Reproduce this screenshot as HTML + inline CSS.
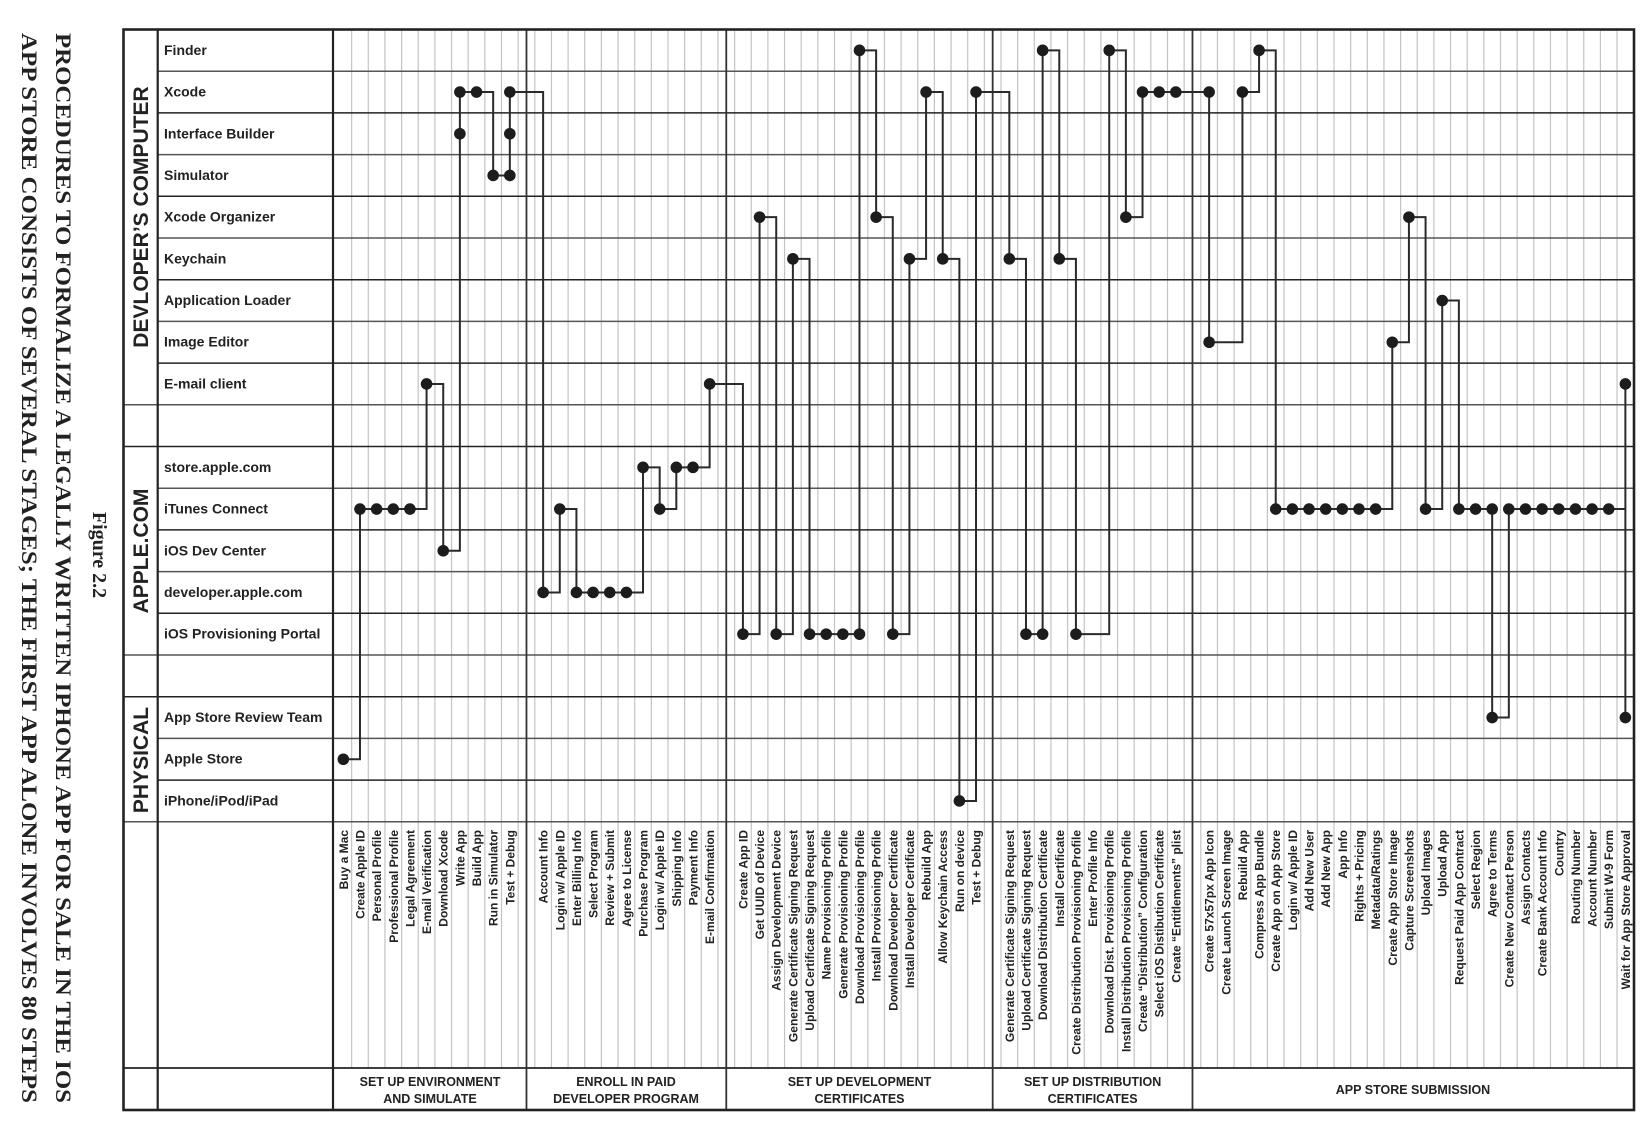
<!DOCTYPE html>
<html><head><meta charset="utf-8"><style>
html,body{margin:0;padding:0;background:#fff;}
svg{display:block;}
.rl{font-family:"Liberation Sans",sans-serif;font-weight:bold;font-size:14px;fill:#222;}
.st{font-family:"Liberation Sans",sans-serif;font-weight:bold;font-size:12px;fill:#222;text-anchor:end;}
.gl{font-family:"Liberation Sans",sans-serif;font-weight:bold;font-size:21px;fill:#222;text-anchor:middle;}
.sg{font-family:"Liberation Sans",sans-serif;font-weight:bold;font-size:12.5px;fill:#222;text-anchor:middle;}
.tt{font-family:"Liberation Serif",serif;font-weight:bold;font-size:22px;fill:#222;}
</style></head><body>
<svg id="s" width="1651" height="1138" viewBox="0 0 1651 1138" xmlns="http://www.w3.org/2000/svg">
<g id="grid"></g>
<g id="conn"></g>
<text class="tt" transform="translate(56,33) rotate(90)" textLength="1070" lengthAdjust="spacingAndGlyphs">PROCEDURES TO FORMALIZE A LEGALLY WRITTEN IPHONE APP FOR SALE IN THE IOS</text>
<text class="tt" transform="translate(22,33) rotate(90)" textLength="1070" lengthAdjust="spacingAndGlyphs">APP STORE CONSISTS OF SEVERAL STAGES; THE FIRST APP ALONE INVOLVES 80 STEPS</text>
<text class="tt" style="font-size:20px" text-anchor="middle" transform="translate(93,555) rotate(90)">Figure 2.2</text>
<text class="gl" transform="translate(148,217) rotate(-90)">DEVLOPER’S COMPUTER</text>
<text class="gl" transform="translate(148,551) rotate(-90)">APPLE.COM</text>
<text class="gl" transform="translate(148,760) rotate(-90)">PHYSICAL</text>
<text class="rl" x="164" y="55">Finder</text>
<text class="rl" x="164" y="96.5">Xcode</text>
<text class="rl" x="164" y="138.5">Interface Builder</text>
<text class="rl" x="164" y="180">Simulator</text>
<text class="rl" x="164" y="221.5">Xcode Organizer</text>
<text class="rl" x="164" y="263.5">Keychain</text>
<text class="rl" x="164" y="305">Application Loader</text>
<text class="rl" x="164" y="346.5">Image Editor</text>
<text class="rl" x="164" y="388.5">E-mail client</text>
<text class="rl" x="164" y="472">store.apple.com</text>
<text class="rl" x="164" y="513.5">iTunes Connect</text>
<text class="rl" x="164" y="555.5">iOS Dev Center</text>
<text class="rl" x="164" y="597">developer.apple.com</text>
<text class="rl" x="164" y="638.5">iOS Provisioning Portal</text>
<text class="rl" x="164" y="722">App Store Review Team</text>
<text class="rl" x="164" y="763.5">Apple Store</text>
<text class="rl" x="164" y="805.5">iPhone/iPod/iPad</text>
<g class="st">
<text transform="translate(347.8,830) rotate(-90)">Buy a Mac</text>
<text transform="translate(364.5,830) rotate(-90)">Create Apple ID</text>
<text transform="translate(381.1,830) rotate(-90)">Personal Profile</text>
<text transform="translate(397.8,830) rotate(-90)">Professional Profile</text>
<text transform="translate(414.4,830) rotate(-90)">Legal Agreement</text>
<text transform="translate(431.1,830) rotate(-90)">E-mail Verification</text>
<text transform="translate(447.7,830) rotate(-90)">Download Xcode</text>
<text transform="translate(464.4,830) rotate(-90)">Write App</text>
<text transform="translate(481.0,830) rotate(-90)">Build App</text>
<text transform="translate(497.7,830) rotate(-90)">Run in Simulator</text>
<text transform="translate(514.3,830) rotate(-90)">Test + Debug</text>
<text transform="translate(547.6,830) rotate(-90)">Account Info</text>
<text transform="translate(564.3,830) rotate(-90)">Login w/ Apple ID</text>
<text transform="translate(580.9,830) rotate(-90)">Enter Billing Info</text>
<text transform="translate(597.6,830) rotate(-90)">Select Program</text>
<text transform="translate(614.2,830) rotate(-90)">Review  + Submit</text>
<text transform="translate(630.9,830) rotate(-90)">Agree to License</text>
<text transform="translate(647.5,830) rotate(-90)">Purchase Program</text>
<text transform="translate(664.2,830) rotate(-90)">Login w/ Apple ID</text>
<text transform="translate(680.8,830) rotate(-90)">Shipping Info</text>
<text transform="translate(697.5,830) rotate(-90)">Payment Info</text>
<text transform="translate(714.1,830) rotate(-90)">E-mail Confirmation</text>
<text transform="translate(747.4,830) rotate(-90)">Create App ID</text>
<text transform="translate(764.1,830) rotate(-90)">Get UUID of Device</text>
<text transform="translate(780.7,830) rotate(-90)">Assign Development Device</text>
<text transform="translate(797.4,830) rotate(-90)">Generate Certificate Signing Request</text>
<text transform="translate(814.0,830) rotate(-90)">Upload Certificate Signing Request</text>
<text transform="translate(830.7,830) rotate(-90)">Name Provisioning Profile</text>
<text transform="translate(847.3,830) rotate(-90)">Generate Provisioning Profile</text>
<text transform="translate(864.0,830) rotate(-90)">Download Provisioning Profile</text>
<text transform="translate(880.6,830) rotate(-90)">Install Provisioning Profile</text>
<text transform="translate(897.3,830) rotate(-90)">Download Developer Certificate</text>
<text transform="translate(913.9,830) rotate(-90)">Install Developer Certificate</text>
<text transform="translate(930.6,830) rotate(-90)">Rebuild App</text>
<text transform="translate(947.2,830) rotate(-90)">Allow Keychain Access</text>
<text transform="translate(963.9,830) rotate(-90)">Run on device</text>
<text transform="translate(980.5,830) rotate(-90)">Test + Debug</text>
<text transform="translate(1013.8,830) rotate(-90)">Generate Certificate Signing Request</text>
<text transform="translate(1030.5,830) rotate(-90)">Upload Certificate Signing Request</text>
<text transform="translate(1047.1,830) rotate(-90)">Download Distribution Certificate</text>
<text transform="translate(1063.8,830) rotate(-90)">Install Certificate</text>
<text transform="translate(1080.4,830) rotate(-90)">Create Distribution Provisioning Profile</text>
<text transform="translate(1097.1,830) rotate(-90)">Enter Profile Info</text>
<text transform="translate(1113.7,830) rotate(-90)">Download Dist. Provisioning Profile</text>
<text transform="translate(1130.4,830) rotate(-90)">Install Distribution Provisioning Profile</text>
<text transform="translate(1147.0,830) rotate(-90)">Create “Distribution” Configuration</text>
<text transform="translate(1163.7,830) rotate(-90)">Select iOS Distibution Certificate</text>
<text transform="translate(1180.3,830) rotate(-90)">Create “Entitlements” plist</text>
<text transform="translate(1213.6,830) rotate(-90)">Create 57x57px App Icon</text>
<text transform="translate(1230.3,830) rotate(-90)">Create Launch Screen Image</text>
<text transform="translate(1246.9,830) rotate(-90)">Rebuild App</text>
<text transform="translate(1263.6,830) rotate(-90)">Compress App Bundle</text>
<text transform="translate(1280.2,830) rotate(-90)">Create App on App Store</text>
<text transform="translate(1296.9,830) rotate(-90)">Login w/ Apple ID</text>
<text transform="translate(1313.5,830) rotate(-90)">Add New User</text>
<text transform="translate(1330.2,830) rotate(-90)">Add New App</text>
<text transform="translate(1346.8,830) rotate(-90)">App Info</text>
<text transform="translate(1363.5,830) rotate(-90)">Rights + Pricing</text>
<text transform="translate(1380.1,830) rotate(-90)">Metadata/Ratings</text>
<text transform="translate(1396.8,830) rotate(-90)">Create App Store Image</text>
<text transform="translate(1413.4,830) rotate(-90)">Capture Screenshots</text>
<text transform="translate(1430.1,830) rotate(-90)">Upload Images</text>
<text transform="translate(1446.7,830) rotate(-90)">Upload App</text>
<text transform="translate(1463.4,830) rotate(-90)">Request Paid App Contract</text>
<text transform="translate(1480.0,830) rotate(-90)">Select Region</text>
<text transform="translate(1496.7,830) rotate(-90)">Agree to Terms</text>
<text transform="translate(1513.3,830) rotate(-90)">Create New Contact Person</text>
<text transform="translate(1530.0,830) rotate(-90)">Assign Contacts</text>
<text transform="translate(1546.6,830) rotate(-90)">Create Bank Account Info</text>
<text transform="translate(1563.3,830) rotate(-90)">Country</text>
<text transform="translate(1579.9,830) rotate(-90)">Routing Number</text>
<text transform="translate(1596.6,830) rotate(-90)">Account Number</text>
<text transform="translate(1613.2,830) rotate(-90)">Submit W-9 Form</text>
<text transform="translate(1629.9,830) rotate(-90)">Wait for App Store Approval</text>
</g>
<g class="sg">
<text x="430" y="1086">SET UP ENVIRONMENT</text><text x="430" y="1103">AND SIMULATE</text>
<text x="626" y="1086">ENROLL IN PAID</text><text x="626" y="1103">DEVELOPER PROGRAM</text>
<text x="859.5" y="1086">SET UP DEVELOPMENT</text><text x="859.5" y="1103">CERTIFICATES</text>
<text x="1092.6" y="1086">SET UP DISTRIBUTION</text><text x="1092.6" y="1103">CERTIFICATES</text>
<text x="1413" y="1094">APP STORE SUBMISSION</text>
</g>
</svg>
<script>
(function(){
var NS="http://www.w3.org/2000/svg";
var grid=document.getElementById("grid"),conn=document.getElementById("conn");
function el(p,t,a){var e=document.createElementNS(NS,t);for(var k in a)e.setAttribute(k,a[k]);p.appendChild(e);return e;}
function line(p,x1,y1,x2,y2,c,w){el(p,"line",{x1:x1,y1:y1,x2:x2,y2:y2,stroke:c,"stroke-width":w});}
var L=123.5,T=29.5,R=1634,B=1110,G=157.7,C0=333,RH=41.7,CW=16.65,X0=335;
function cx(i){return X0+(i+0.5)*CW;}
function cy(r){return T+(r+0.5)*RH;}
for(var k=1;k<78;k++){var x=X0+k*CW;line(grid,x,T,x,1068,"#c4c4c4",1.2);}
for(var r=1;r<=19;r++){var y=T+r*RH;
  var x1=(r==9||r==10||r==15||r==16||r==19)?L:G;
  line(grid,x1,y,R,y,(r%2)?"#555":"#222",1.5);}
line(grid,L,1068,R,1068,"#222",1.8);
line(grid,G,T,G,B,"#222",2.2);
line(grid,C0,T,C0,B,"#222",2.2);
[11,23,39,51].forEach(function(i){var x=cx(i);line(grid,x,T,x,B,"#333",1.8);});
el(grid,"rect",{x:L,y:T,width:R-L,height:B-T,fill:"none",stroke:"#222","stroke-width":2.6});
var P=[[0,17],[1,11],[2,11],[3,11],[4,11],[5,8],[6,12],[7,2],[7,1],[8,1],[9,3],[10,3],[10,2],[10,1],
[12,13],[13,11],[14,13],[15,13],[16,13],[17,13],[18,10],[19,11],[20,10],[21,10],[22,8],
[24,14],[25,4],[26,14],[27,5],[28,14],[29,14],[30,14],[31,14],[31,0],[32,4],[33,14],[34,5],[35,1],[36,5],[37,18],[38,1],
[40,5],[41,14],[42,14],[42,0],[43,5],[44,14],[46,0],[47,4],[48,1],[49,1],[50,1],
[52,1],[52,7],[54,1],[55,0],[56,11],[57,11],[58,11],[59,11],[60,11],[61,11],[62,11],[63,7],[64,4],[65,11],[66,6],
[67,11],[68,11],[69,11],[69,16],[70,11],[71,11],[72,11],[73,11],[74,11],[75,11],[76,11],[77,16],[77,8]];
var d="M"+cx(P[0][0])+" "+cy(P[0][1]);
for(var i=1;i<P.length;i++){var a=P[i-1],b=P[i];
  if(a[0]!=b[0]) d+=" L"+cx(b[0])+" "+cy(a[1]);
  if(a[1]!=b[1]) d+=" L"+cx(b[0])+" "+cy(b[1]);}
el(conn,"path",{d:d,fill:"none",stroke:"#2a2a2a","stroke-width":2});
P.forEach(function(p){el(conn,"circle",{cx:cx(p[0]),cy:cy(p[1]),r:5.8,fill:"#1c1c1c"});});
})();
</script>
</body></html>
